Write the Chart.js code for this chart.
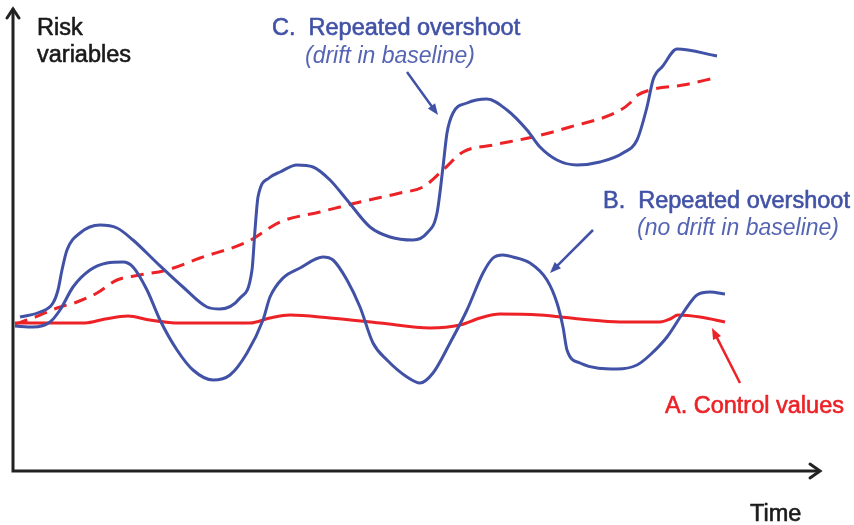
<!DOCTYPE html>
<html>
<head>
<meta charset="utf-8">
<script src="https://cdn.jsdelivr.net/npm/chart.js@4"></script>
<style>
  body { margin: 0; background: #fff; }
</style>
</head>
<body>
<canvas id="chart" width="854" height="525"></canvas>
<script>
// time runs 0..807, risk 0..463 (arbitrary units)
const controlT = [2, 37, 72, 92, 115, 137, 167, 237, 257, 277, 317, 367, 417, 447, 467, 487, 527, 567, 607, 647, 657, 665, 687, 712];
const controlV = [148, 148, 148, 152, 155, 151, 148, 148, 153, 156, 153, 148, 143, 146, 153, 157, 156, 152, 149, 149, 152, 156, 154, 149];

const driftBaseT = [2, 20, 44, 64, 84, 104, 127, 154, 187, 234, 267, 307, 347, 387, 410, 430, 450, 480, 520, 557, 604, 617, 622, 637, 670, 702];
const driftBaseV = [147, 153, 163, 169, 178, 191, 196, 201, 213, 229, 249, 259, 269, 278, 284, 301, 319, 326, 334, 344, 359, 368, 374, 381, 386, 393];

const driftT = [7, 27, 40, 45, 49, 54, 67, 87, 104, 120, 144, 170, 194, 207, 227, 239, 242, 245, 256, 267, 284, 300, 317, 334, 357, 377, 400, 414, 424, 430, 434, 440, 454, 474, 494, 514, 527, 544, 564, 587, 610, 624, 634, 640, 644, 649, 664, 704];
const driftV = [154, 159, 168, 181, 201, 221, 238, 246, 243, 231, 208, 184, 164, 162, 173, 201, 241, 274, 293, 299, 306, 304, 291, 271, 244, 234, 231, 238, 258, 304, 338, 358, 368, 372, 361, 341, 324, 311, 306, 309, 318, 331, 364, 391, 399, 404, 422, 415];

const noDriftT = [2, 20, 37, 47, 60, 77, 94, 110, 120, 134, 147, 164, 180, 200, 217, 234, 250, 257, 270, 287, 310, 320, 334, 347, 360, 374, 394, 407, 420, 437, 454, 470, 480, 490, 500, 517, 534, 544, 550, 554, 567, 604, 624, 637, 654, 670, 684, 697, 712];
const noDriftV = [145, 144, 149, 161, 184, 201, 208, 209, 204, 181, 151, 121, 101, 91, 96, 118, 151, 174, 193, 203, 214, 211, 191, 164, 128, 111, 94, 88, 98, 128, 161, 198, 213, 216, 214, 208, 191, 168, 144, 121, 108, 102, 106, 116, 134, 158, 176, 179, 177];

// callout arrows: [fromT, fromV, toT, toV]
const arrowC = [394, 399, 425, 356];
const arrowB = [580, 241, 537, 198];
const arrowA = [727, 88, 699, 143];

const BLUE = '#4152a6';
const RED = '#ec2227';

function pts(t, v) {
  return t.map((x, i) => ({ x: x, y: v[i] }));
}

function arrowHead(ctx, x1, y1, x2, y2, size) {
  const a = Math.atan2(y2 - y1, x2 - x1);
  ctx.beginPath();
  ctx.moveTo(x2, y2);
  ctx.lineTo(x2 - size * Math.cos(a - 0.38), y2 - size * Math.sin(a - 0.38));
  ctx.lineTo(x2 - size * Math.cos(a + 0.38), y2 - size * Math.sin(a + 0.38));
  ctx.closePath();
  ctx.fill();
}

function label(ctx, txt, x, y, col) {
  ctx.fillStyle = col;
  ctx.strokeStyle = col;
  ctx.lineWidth = 0.6;
  ctx.fillText(txt, x, y);
  ctx.strokeText(txt, x, y);
}

const sketchPlugin = {
  id: 'sketch',
  afterDatasetsDraw(chart) {
    const ctx = chart.ctx;
    const a = chart.chartArea;
    const xs = chart.scales.x, ys = chart.scales.y;
    ctx.save();

    // axes with open arrow heads
    ctx.strokeStyle = '#222';
    ctx.lineWidth = 3;
    ctx.lineCap = 'square';
    ctx.beginPath();
    ctx.moveTo(a.left, a.top + 2);
    ctx.lineTo(a.left, a.bottom);
    ctx.lineTo(a.right - 2, a.bottom);
    ctx.stroke();
    ctx.lineCap = 'round';
    ctx.beginPath();
    ctx.moveTo(a.left - 6, a.top + 10);
    ctx.lineTo(a.left, a.top + 1);
    ctx.lineTo(a.left + 6, a.top + 10);
    ctx.moveTo(a.right - 10, a.bottom - 7);
    ctx.lineTo(a.right, a.bottom);
    ctx.lineTo(a.right - 10, a.bottom + 7);
    ctx.stroke();

    // callout arrows
    const callouts = [[arrowC, BLUE], [arrowB, BLUE], [arrowA, RED]];
    callouts.forEach(([ar, col]) => {
      const x1 = xs.getPixelForValue(ar[0]), y1 = ys.getPixelForValue(ar[1]);
      const x2 = xs.getPixelForValue(ar[2]), y2 = ys.getPixelForValue(ar[3]);
      const ang = Math.atan2(y2 - y1, x2 - x1);
      ctx.strokeStyle = col;
      ctx.fillStyle = col;
      ctx.lineWidth = 2.5;
      ctx.lineCap = 'butt';
      ctx.beginPath();
      ctx.moveTo(x1, y1);
      ctx.lineTo(x2 - 8 * Math.cos(ang), y2 - 8 * Math.sin(ang));
      ctx.stroke();
      arrowHead(ctx, x1, y1, x2, y2, 12);
    });

    // labels
    ctx.textBaseline = 'alphabetic';
    ctx.textAlign = 'left';
    ctx.lineJoin = 'round';
    ctx.font = '23.5px "Liberation Sans", Arial, sans-serif';
    label(ctx, 'Risk', 37, 35, '#1a1a1a');
    label(ctx, 'variables', 37, 62, '#1a1a1a');
    label(ctx, 'Time', 750, 521, '#1a1a1a');
    label(ctx, 'C.  Repeated overshoot', 272, 35, BLUE);
    label(ctx, 'B.  Repeated overshoot', 603, 208, BLUE);
    label(ctx, 'A. Control values', 665, 413, RED);

    ctx.font = 'italic 23px "Liberation Sans", Arial, sans-serif';
    ctx.fillStyle = '#5565b4';
    ctx.fillText('(drift in baseline)', 305, 63);
    ctx.fillText('(no drift in baseline)', 637, 235);
    ctx.restore();
  }
};

const lineStyle = {
  pointRadius: 0,
  borderWidth: 3,
  fill: false,
  tension: 0.4,
  cubicInterpolationMode: 'monotone'
};

new Chart(document.getElementById('chart'), {
  type: 'line',
  data: {
    datasets: [
      Object.assign({ label: 'C. Repeated overshoot (drift in baseline)', data: pts(driftT, driftV), borderColor: BLUE }, lineStyle),
      Object.assign({ label: 'B. Repeated overshoot (no drift in baseline)', data: pts(noDriftT, noDriftV), borderColor: BLUE }, lineStyle),
      Object.assign({ label: 'Drifting baseline', data: pts(driftBaseT, driftBaseV), borderColor: RED, borderDash: [13, 8] }, lineStyle),
      Object.assign({ label: 'A. Control values', data: pts(controlT, controlV), borderColor: RED }, lineStyle)
    ]
  },
  options: {
    responsive: false,
    animation: false,
    layout: { padding: { left: 13, right: 34, top: 8, bottom: 54 } },
    plugins: { legend: { display: false }, tooltip: { enabled: false } },
    scales: {
      x: { type: 'linear', min: 0, max: 807, display: false },
      y: { type: 'linear', min: 0, max: 463, display: false }
    }
  },
  plugins: [sketchPlugin]
});
</script>
</body>
</html>
